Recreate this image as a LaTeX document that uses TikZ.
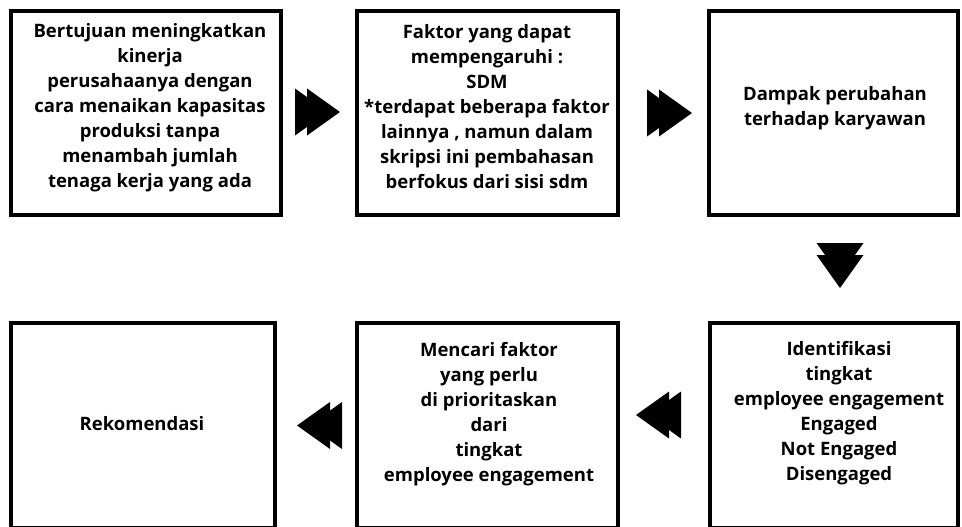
\documentclass[tikz,border=0pt]{standalone}
\usepackage{fontspec}
\setmainfont{Open Sans}
\begin{document}
\begin{tikzpicture}[x=1pt,y=-1pt,
  box/.style={draw=black, line width=4pt, fill=white, inner sep=0pt},
  lbl/.style={align=center, font=\fontsize{18.5}{25}\selectfont\bfseries, inner sep=0pt, text=black},
  ffwd/.pic={
    \fill[black] (-23,-23.5) -- (10,0) -- (-23,23.5) -- cycle;
    \fill[black] (-11,-23.5) -- (22,0) -- (-11,23.5) -- cycle;
  }]
\useasboundingbox (0,0) rectangle (962,527);
\clip (0,0) rectangle (962,527);
\fill[white] (0,0) rectangle (962,527);
% boxes
\node[box, minimum width=270pt, minimum height=204pt] (b1) at (146,113) {};
\node[box, minimum width=261pt, minimum height=204pt] (b2) at (487.5,113) {};
\node[box, minimum width=249pt, minimum height=204pt] (b3) at (833.5,113) {};
\node[box, minimum width=264pt, minimum height=205pt] (b4) at (143,425.5) {};
\node[box, minimum width=261pt, minimum height=205pt] (b5) at (487.5,425.5) {};
\node[box, minimum width=248pt, minimum height=205pt] (b6) at (834,425.5) {};
% texts
\node[lbl] (t1) at (150,108) {Bertujuan meningkatkan\\kinerja\\perusahaanya dengan\\cara menaikan kapasitas\\produksi tanpa\\menambah jumlah\\tenaga kerja yang ada};
\node[lbl] (t2) at (487,107) {Faktor yang dapat\\mempengaruhi :\\SDM\\*terdapat beberapa faktor\\lainnya , namun dalam\\skripsi ini pembahasan\\berfokus dari sisi sdm};
\node[lbl] (t3) at (835,108) {Dampak perubahan\\terhadap karyawan};
\node[lbl] (t4) at (142,424) {Rekomendasi};
\node[lbl] (t5) at (489,414) {Mencari faktor\\yang perlu\\di prioritaskan\\dari\\tingkat\\employee engagement};
\node[lbl] (t6) at (839,413) {Identifikasi\\tingkat\\employee engagement\\Engaged\\Not Engaged\\Disengaged};
% chevron connectors
\coordinate (a12) at (318,112);
\coordinate (a23) at (670,113);
\coordinate (a36) at (840,266);
\coordinate (a65) at (658,415);
\coordinate (a54) at (319,425.5);
\pic at (a12) {ffwd};
\pic at (a23) {ffwd};
\pic[rotate=-90] at (a36) {ffwd};
\pic[rotate=180] at (a65) {ffwd};
\pic[rotate=180] at (a54) {ffwd};
\end{tikzpicture}
\end{document}
